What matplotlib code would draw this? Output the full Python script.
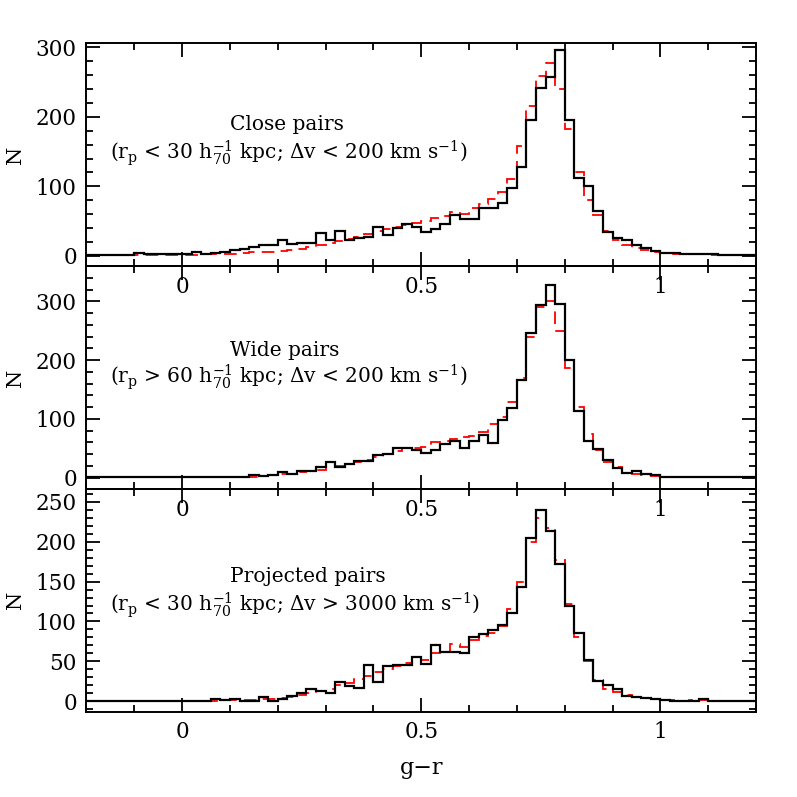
import numpy as np
import matplotlib
matplotlib.use("Agg")
import matplotlib.pyplot as plt
from matplotlib.ticker import MultipleLocator

plt.rcParams["font.family"] = ["DejaVu Serif"]
plt.rcParams["mathtext.fontset"] = "dejavuserif"

# g-r bins: 70 bins of 0.02 from -0.2 to 1.2
bin_edges = np.round(np.arange(-0.2, 1.2001, 0.02), 3)

# close pairs (rp < 30, dv < 200)
close_pairs = [1, 1, 1, 1, 1, 4, 3, 2, 2, 2,
               2, 5, 3, 4, 6, 8, 10, 13, 15, 15,
               22, 17, 18, 18, 32, 23, 35, 23, 25, 27,
               41, 30, 40, 45, 41, 34, 38, 45, 59, 53,
               53, 69, 69, 76, 97, 128, 196, 242, 257, 297,
               196, 112, 100, 65, 34, 26, 22, 15, 11, 7,
               4, 4, 3, 3, 2, 2, 1, 1, 1, 1]
close_control = [1, 1, 1, 1, 1, 1, 1, 1, 1, 1,
                 1, 1, 2, 2, 3, 3, 4, 5, 5, 6,
                 7, 8, 10, 12, 15, 18, 21, 24, 27, 31,
                 35, 38, 41, 44, 47, 50, 55, 57, 63, 60,
                 68, 75, 82, 92, 110, 158, 216, 259, 277, 240,
                 183, 121, 80, 58, 35, 22, 15, 11, 8, 6,
                 4, 3, 3, 2, 2, 1, 1, 1, 1, 1]

# wide pairs (rp > 60, dv < 200)
wide_pairs = [1, 1, 1, 1, 1, 1, 1, 1, 1, 1,
              1, 1, 1, 1, 2, 2, 2, 5, 3, 4,
              10, 7, 11, 11, 19, 27, 19, 24, 28, 28,
              38, 41, 51, 50, 48, 42, 48, 58, 62, 50,
              63, 72, 59, 99, 119, 167, 246, 293, 328, 296,
              201, 113, 63, 49, 31, 17, 8, 12, 6, 5,
              2, 2, 1, 1, 1, 1, 1, 1, 1, 1]
wide_control = [1, 1, 1, 1, 1, 1, 1, 1, 1, 1,
                1, 1, 1, 1, 1, 1, 2, 2, 3, 4,
                6, 7, 9, 11, 14, 18, 20, 23, 27, 31,
                35, 40, 45, 50, 50, 53, 60, 63, 66, 69,
                71, 78, 92, 103, 129, 170, 240, 290, 300, 250,
                187, 120, 75, 47, 26, 19, 8, 6, 5, 3,
                2, 2, 2, 1, 1, 1, 1, 1, 1, 1]

# projected pairs (rp < 30, dv > 3000)
proj_pairs = [1, 1, 1, 1, 1, 1, 1, 1, 1, 1,
              1, 1, 1, 3, 2, 3, 1, 1, 5, 1,
              3, 7, 10, 15, 13, 10, 24, 19, 17, 45,
              24, 44, 46, 46, 55, 47, 71, 62, 62, 60,
              80, 84, 89, 96, 110, 143, 204, 240, 213, 172,
              120, 85, 52, 25, 21, 15, 7, 5, 4, 3,
              2, 1, 1, 1, 3, 1, 1, 1, 1, 1]
proj_control = [1, 1, 1, 1, 1, 1, 1, 1, 1, 1,
                1, 1, 1, 1, 2, 2, 2, 2, 3, 3,
                4, 6, 8, 11, 13, 16, 20, 23, 28, 32,
                37, 40, 44, 48, 56, 52, 60, 62, 72, 68,
                77, 82, 86, 94, 115, 150, 200, 230, 217, 177,
                122, 80, 50, 27, 16, 12, 8, 5, 4, 3,
                2, 2, 1, 2, 2, 1, 1, 1, 1, 1]

titles = ["Close pairs", "Wide pairs", "Projected pairs"]
subtitles = [r"(r$_{\rm p}$ < 30 h$^{-1}_{70}$ kpc; $\Delta$v < 200 km s$^{-1}$)",
             r"(r$_{\rm p}$ > 60 h$^{-1}_{70}$ kpc; $\Delta$v < 200 km s$^{-1}$)",
             r"(r$_{\rm p}$ < 30 h$^{-1}_{70}$ kpc; $\Delta$v > 3000 km s$^{-1}$)"]
pairs = [close_pairs, wide_pairs, proj_pairs]
controls = [close_control, wide_control, proj_control]
ylims = [(-15, 306), (-19, 360), (-13, 266)]
ymajor = [100, 100, 50]
yminor = [20, 20, 10]
title_y = [189, 217, 156]
sub_y = [147, 171, 120]

fig = plt.figure(figsize=(7.97, 7.97), dpi=100)
fig.patch.set_facecolor("white")
gs = fig.add_gridspec(3, 1, left=0.1085, right=0.9486, bottom=0.107,
                      top=0.9457, hspace=0)

for i in range(3):
    ax = fig.add_subplot(gs[i])
    ax.patch.set_visible(False)
    ax.stairs(controls[i], bin_edges, baseline=None, color="red", lw=1.3,
              linestyle=(0, (7, 4)))
    ax.stairs(pairs[i], bin_edges, baseline=None, color="black", lw=1.6)
    ax.set_xlim(-0.2, 1.2)
    ax.set_ylim(*ylims[i])
    ax.xaxis.set_major_locator(MultipleLocator(0.5))
    ax.xaxis.set_minor_locator(MultipleLocator(0.1))
    ax.yaxis.set_major_locator(MultipleLocator(ymajor[i]))
    ax.yaxis.set_minor_locator(MultipleLocator(yminor[i]))
    ax.xaxis.set_major_formatter(plt.FuncFormatter(lambda v, p: "%g" % v))
    ax.tick_params(which="both", direction="in", top=True, right=True,
                   labelsize=15.5, width=1.3)
    ax.tick_params(which="major", length=10, pad=7)
    ax.tick_params(which="minor", length=5)
    for sp in ax.spines.values():
        sp.set_linewidth(1.4)
    ax.set_ylabel("N", fontsize=15, labelpad=8)
    ax.text(0.1, title_y[i], titles[i], fontsize=14.5, ha="left", va="center")
    ax.text(-0.15, sub_y[i], subtitles[i], fontsize=14.5, ha="left",
            va="center")

ax.set_xlabel("g\u2212r", fontsize=16, labelpad=10)

fig.savefig("out.png", dpi=100)
